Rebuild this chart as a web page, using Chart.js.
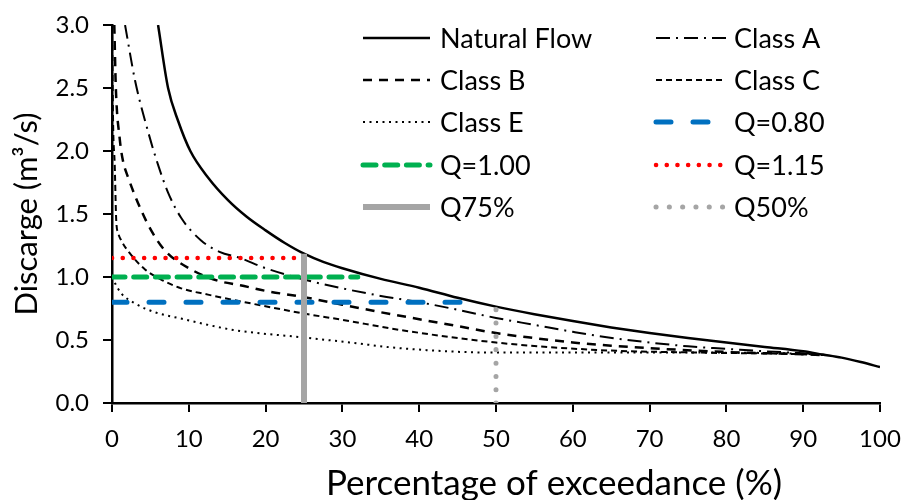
<!DOCTYPE html>
<html>
<head>
<meta charset="utf-8">
<script src="https://cdn.jsdelivr.net/npm/chart.js@4.4.1/dist/chart.umd.min.js"></script>
<style>
  body { margin: 0; background: #fff; }
  #wrap { width: 905px; height: 500px; }
</style>
</head>
<body>
<div id="wrap"><canvas id="fdc" width="905" height="500"></canvas></div>
<script>
// flow duration curves: exceedance (%) vs discharge (m3/s)
const naturalX = [6, 7.3, 8.6, 10.2, 12.5, 15.1, 17.5, 20, 22.5, 25, 27.5, 30, 35, 40, 45, 50, 55, 60, 65, 70, 75, 80, 85, 90, 92.5, 95, 97.5, 100];
const naturalY = [3.0, 2.5, 2.24, 2.0, 1.79, 1.61, 1.48, 1.37, 1.27, 1.185, 1.12, 1.07, 0.985, 0.915, 0.835, 0.765, 0.705, 0.65, 0.6, 0.555, 0.515, 0.48, 0.445, 0.41, 0.385, 0.36, 0.325, 0.285];

const classAX = [1.7, 3.0, 4.9, 6.0, 7.3, 9.0, 11.6, 14, 16.7, 20, 25, 30, 35, 40, 45, 50, 55, 60, 63.5, 70, 75, 80, 85, 90, 93];
const classAY = [3.0, 2.56, 2.11, 1.89, 1.67, 1.47, 1.29, 1.2, 1.15, 1.07, 0.98, 0.91, 0.85, 0.8, 0.74, 0.675, 0.62, 0.565, 0.53, 0.48, 0.45, 0.43, 0.41, 0.395, 0.38];

const classBX = [0.3, 0.5, 1.0, 1.4, 2.1, 3.8, 5.1, 6.9, 10.3, 13.8, 16.7, 20, 25, 30, 35, 40, 45, 50, 55, 60, 65, 70, 80, 88, 93];
const classBY = [3.0, 2.5, 2.1, 1.93, 1.79, 1.53, 1.37, 1.21, 1.06, 0.97, 0.935, 0.89, 0.84, 0.78, 0.72, 0.665, 0.61, 0.555, 0.515, 0.48, 0.455, 0.435, 0.405, 0.39, 0.38];

const classCX = [0, 0.15, 0.35, 0.55, 0.8, 1.2, 2.7, 4.3, 6.4, 9, 12.5, 17.3, 25, 30, 37.5, 50, 63.5, 76.6, 88, 93];
const classCY = [3.0, 2.2, 1.9, 1.45, 1.35, 1.29, 1.16, 1.06, 0.98, 0.91, 0.86, 0.8, 0.71, 0.66, 0.58, 0.48, 0.42, 0.4, 0.39, 0.38];

const classEX = [0, 0.4, 1.2, 3, 5.6, 9, 15.8, 25, 31, 37.5, 50, 63.5, 76.6, 90, 93];
const classEY = [1.0, 0.95, 0.87, 0.79, 0.72, 0.67, 0.58, 0.52, 0.48, 0.435, 0.4, 0.4, 0.4, 0.39, 0.38];

// threshold discharges and exceedance markers
const q080X = [0, 46.2], q080Y = [0.8, 0.8];
const q100X = [0, 32], q100Y = [1.0, 1.0];
const q115X = [0, 24], q115Y = [1.15, 1.15];
const q75X = [25, 25], q75Y = [0, 1.185];
const q50X = [50, 50], q50Y = [0, 0.765];

const xTicks = [0, 10, 20, 30, 40, 50, 60, 70, 80, 90, 100];
const yTicks = [0, 0.5, 1.0, 1.5, 2.0, 2.5, 3.0];

const FONT = 'Lato';

function pts(xs, ys) {
  return xs.map((x, i) => ({ x: x, y: ys[i] }));
}

function series(label, xs, ys, color, width, dash, cap, order) {
  return {
    label: label,
    data: pts(xs, ys),
    borderColor: color,
    backgroundColor: color,
    borderWidth: width,
    borderDash: dash,
    borderCapStyle: cap || 'butt',
    pointRadius: 0,
    pointHoverRadius: 0,
    fill: false,
    cubicInterpolationMode: 'monotone',
    order: order
  };
}

const datasets = [
  series('Natural Flow', naturalX, naturalY, '#000', 2.5, [], 'butt', 5),
  series('Class A', classAX, classAY, '#000', 2, [14, 6, 2, 6], 'butt', 6),
  series('Class B', classBX, classBY, '#000', 2.5, [9, 7], 'butt', 7),
  series('Class C', classCX, classCY, '#000', 2, [6, 4], 'butt', 8),
  series('Class E', classEX, classEY, '#000', 2, [2, 4.5], 'butt', 9),
  series('Q=0.80', q080X, q080Y, '#0070C0', 5, [15, 22], 'round', 3),
  series('Q=1.00', q100X, q100Y, '#00B050', 5, [13, 8.7], 'round', 3),
  series('Q=1.15', q115X, q115Y, '#FF0000', 4.5, [0.1, 10.6], 'round', 3),
  series('Q75%', q75X, q75Y, '#A5A5A5', 6, [], 'butt', 1),
  series('Q50%', q50X, q50Y, '#A5A5A5', 5, [0.1, 13.2], 'round', 2)
];

// two-column legend drawn inside the plot area, plus the x axis title
const gridLegend = {
  id: 'gridLegend',
  afterDraw(chart) {
    const ctx = chart.ctx;
    const cols = [{ x0: 363, x1: 430, tx: 440 }, { x0: 656, x1: 726, tx: 734 }];
    const rowY = [38, 80, 122, 165, 207];
    chart.data.datasets.forEach((ds, i) => {
      const c = cols[i % 2];
      const y = rowY[Math.floor(i / 2)];
      ctx.save();
      ctx.strokeStyle = ds.borderColor;
      ctx.lineWidth = ds.borderWidth;
      ctx.lineCap = ds.borderCapStyle;
      ctx.setLineDash(ds.borderDash);
      ctx.beginPath();
      ctx.moveTo(c.x0, y);
      ctx.lineTo(c.x1, y);
      ctx.stroke();
      ctx.setLineDash([]);
      ctx.fillStyle = '#000';
      ctx.font = '27px ' + FONT;
      ctx.textBaseline = 'middle';
      ctx.textAlign = 'left';
      ctx.fillText(ds.label, c.tx, y + 1);
      ctx.restore();
    });
    ctx.save();
    ctx.fillStyle = '#000';
    ctx.font = '35px ' + FONT;
    ctx.textAlign = 'center';
    ctx.textBaseline = 'middle';
    ctx.fillText('Percentage of exceedance (%)', 554, 484);
    ctx.restore();
  }
};

new Chart(document.getElementById('fdc'), {
  type: 'line',
  data: { datasets: datasets },
  options: {
    responsive: false,
    animation: false,
    layout: { padding: { top: 25, right: 25, left: 0, bottom: 0 } },
    plugins: {
      legend: { display: false },
      tooltip: { enabled: false }
    },
    scales: {
      x: {
        type: 'linear',
        min: 0,
        max: 100,
        afterFit(scale) {
          scale.height = 97;
          scale.paddingLeft = 0;
          scale.paddingRight = 0;
        },
        afterBuildTicks(scale) { scale.ticks = xTicks.map(v => ({ value: v })); },
        border: { display: true, color: '#000', width: 2.5 },
        grid: { drawOnChartArea: false, color: '#000', lineWidth: 2, tickLength: 9 },
        ticks: { color: '#000', font: { family: FONT, size: 24 }, padding: 13, maxRotation: 0 },
        title: { display: false }
      },
      y: {
        type: 'linear',
        min: 0,
        max: 3,
        afterFit(scale) {
          scale.width = 112;
          scale.paddingTop = 0;
          scale.paddingBottom = 0;
        },
        afterBuildTicks(scale) { scale.ticks = yTicks.map(v => ({ value: v })); },
        border: { display: true, color: '#000', width: 2.5 },
        grid: { drawOnChartArea: false, color: '#000', lineWidth: 2, tickLength: 9 },
        ticks: {
          color: '#000',
          font: { family: FONT, size: 24 },
          padding: 14,
          callback: v => Number(v).toFixed(1)
        },
        title: {
          display: true,
          text: 'Discarge (m³/s)',
          color: '#000',
          font: { family: FONT, size: 31 },
          padding: { top: 8, bottom: 0 }
        }
      }
    }
  },
  plugins: [gridLegend]
});
</script>
</body>
</html>
